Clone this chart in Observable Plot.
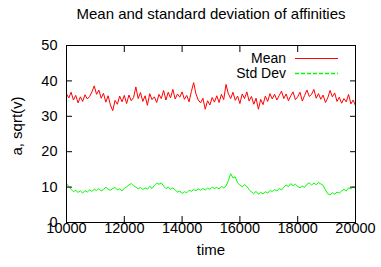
<!DOCTYPE html>
<html><head><meta charset="utf-8">
<script src="https://cdn.jsdelivr.net/npm/d3@7"></script>
<script src="https://cdn.jsdelivr.net/npm/@observablehq/plot@0.6"></script>
<style>body{margin:0;background:#fff} svg{display:block}</style>
</head><body><div id="chart"></div>
<script>
const titleText = "Mean and standard deviation of affinities";
const xLabel = "time";
const yLabel = "a, sqrt(v)";
const xTicks = [10000, 12000, 14000, 16000, 18000, 20000];
const yTicks = [0, 10, 20, 30, 40, 50];
const seriesNames = ["Mean", "Std Dev"];
const seriesColors = ["#ff0000", "#00ff00"];
const timeStart = 10000;
const timeStep = 80;

const meanValues = [
  36.3, 35.2, 36.8, 34.6, 35.9, 33.8, 35.5, 34.2, 36.1, 34.9,
  35.6, 36.9, 38.6, 36.2, 37.4, 35.1, 36.5, 34.0, 35.8, 33.2,
  31.6, 34.5, 33.4, 35.7, 34.1, 35.9, 33.6, 36.0, 34.4, 35.3,
  38.3, 35.0, 36.7, 34.2, 35.8, 33.1, 36.4, 34.7, 35.5, 33.9,
  36.2, 35.0, 37.3, 34.6, 36.8, 35.2, 37.6, 34.9, 36.3, 35.4,
  36.9, 34.8, 35.9, 34.1, 37.0, 39.5, 36.3, 34.6, 33.8, 35.1,
  32.0, 34.4, 33.2, 35.3, 34.0, 35.8, 33.9, 36.2, 34.7, 39.0,
  36.4, 35.0, 36.8, 34.5, 35.7, 33.6, 36.3, 35.0, 36.9, 34.3,
  35.6, 33.4, 35.1, 32.0, 34.8, 33.3, 35.7, 34.2, 36.4, 34.9,
  36.2, 34.6, 35.9, 37.1, 35.0, 36.3, 34.4, 35.8, 36.9, 34.7,
  35.5, 36.8, 34.3, 35.9, 37.4, 35.6, 36.2, 37.6, 35.1, 36.4,
  34.8, 36.0, 33.9, 35.2, 37.3, 35.5, 36.6, 34.2, 35.4, 33.7,
  35.0, 34.1, 36.2, 33.5, 34.6, 33.0
];
const stdValues = [
  11.0, 10.2, 9.4, 8.7, 9.1, 8.5, 8.9, 8.3, 9.0, 8.6,
  9.2, 8.8, 9.4, 9.0, 9.6, 8.9, 9.3, 10.0, 9.4, 9.1,
  9.6, 9.9, 9.2, 9.5, 8.9, 9.7, 10.1, 10.6, 11.0, 10.4,
  10.0, 9.5, 9.9, 9.3, 9.8, 9.4, 10.2, 9.6, 10.5, 11.1,
  10.8, 11.2, 10.3, 9.6, 10.0, 9.4, 9.8, 9.2, 8.6, 8.9,
  8.2, 8.7, 8.4, 9.1, 8.8, 9.3, 9.0, 9.5, 9.1, 9.6,
  9.2, 9.7, 9.4, 10.0, 9.6, 9.9, 9.5, 10.2, 9.8, 10.3,
  11.8, 13.8, 12.6, 12.9, 11.2, 10.6, 10.1, 10.7, 10.2, 9.3,
  8.6, 8.2, 8.8, 8.0, 8.5, 8.1, 8.7, 8.3, 9.0, 8.8,
  9.3, 8.9, 9.6, 9.2, 10.0, 10.6, 10.1, 11.0, 10.4, 10.8,
  10.2, 9.8, 10.3, 9.9, 10.8, 11.2, 10.6, 11.1, 10.7, 11.3,
  10.9, 10.5, 9.2, 8.1, 7.8, 8.4, 8.0, 8.6, 8.3, 8.9,
  9.4, 8.9, 9.8, 9.5, 10.1, 9.6
];

const meanRows = meanValues.map((v, i) => ({time: timeStart + i * timeStep, value: v}));
const stdRows = stdValues.map((v, i) => ({time: timeStart + i * timeStep, value: v}));

const font = "'Liberation Sans', Arial, Helvetica, sans-serif";
const W = 381, H = 267;
const mL = 66, mR = 26, mT = 45, mB = 45;

const plot = Plot.plot({
  width: W, height: H,
  marginLeft: mL, marginRight: mR, marginTop: mT, marginBottom: mB,
  style: {fontFamily: font, fontSize: "14px", background: "#fff", color: "#000"},
  x: {domain: [10000, 20000]},
  y: {domain: [0, 50]},
  marks: [
    Plot.line(meanRows, {x: "time", y: "value", stroke: seriesColors[0], strokeWidth: 1}),
    Plot.line(stdRows, {x: "time", y: "value", stroke: seriesColors[1], strokeWidth: 1}),
    Plot.frame({stroke: "#000", strokeWidth: 1}),
    Plot.axisX({anchor: "bottom", ticks: xTicks, tickSize: -6, tickFormat: () => "", label: null}),
    Plot.axisX({anchor: "top", ticks: xTicks, tickSize: -6, tickFormat: () => "", label: null}),
    Plot.axisY({anchor: "left", ticks: yTicks, tickSize: -6, tickFormat: () => "", label: null}),
    Plot.axisY({anchor: "right", ticks: yTicks, tickSize: -6, tickFormat: () => "", label: null}),
    Plot.axisX({anchor: "bottom", ticks: xTicks, tickSize: 0, tickPadding: 0, tickFormat: d => String(d), label: null, fontSize: 14.5}),
    Plot.axisY({anchor: "left", ticks: yTicks, tickSize: 0, tickPadding: 9, tickFormat: d => String(d), label: null, fontSize: 14.5}),
    Plot.text([titleText], {frameAnchor: "top", textAnchor: "middle", lineAnchor: "middle", dy: -31, fontSize: 15}),
    Plot.text([xLabel], {frameAnchor: "bottom", textAnchor: "middle", lineAnchor: "middle", dy: 28, fontSize: 15}),
    Plot.text([yLabel], {frameAnchor: "left", textAnchor: "middle", lineAnchor: "middle", dx: -49, dy: -8, rotate: -90, fontSize: 15})
  ]
});
document.getElementById("chart").appendChild(plot);

// legend (gnuplot style, upper right inside the frame)
const svg = d3.select(plot);
const right = W - mR;
const leg = svg.append("g").attr("font-family", font).attr("font-size", 14);
seriesNames.forEach((name, i) => {
  const yy = mT + 13 + i * 15;
  leg.append("text").attr("x", right - 69).attr("y", yy).attr("dy", "0.35em")
    .attr("text-anchor", "end").attr("fill", "#000").text(name);
  leg.append("line").attr("x1", right - 60).attr("x2", right - 17)
    .attr("y1", yy + 0.5).attr("y2", yy + 0.5)
    .attr("stroke", seriesColors[i]).attr("stroke-width", i === 1 ? 1.5 : 1)
    .attr("stroke-dasharray", i === 1 ? "4,2" : null);
});
</script>
</body></html>
